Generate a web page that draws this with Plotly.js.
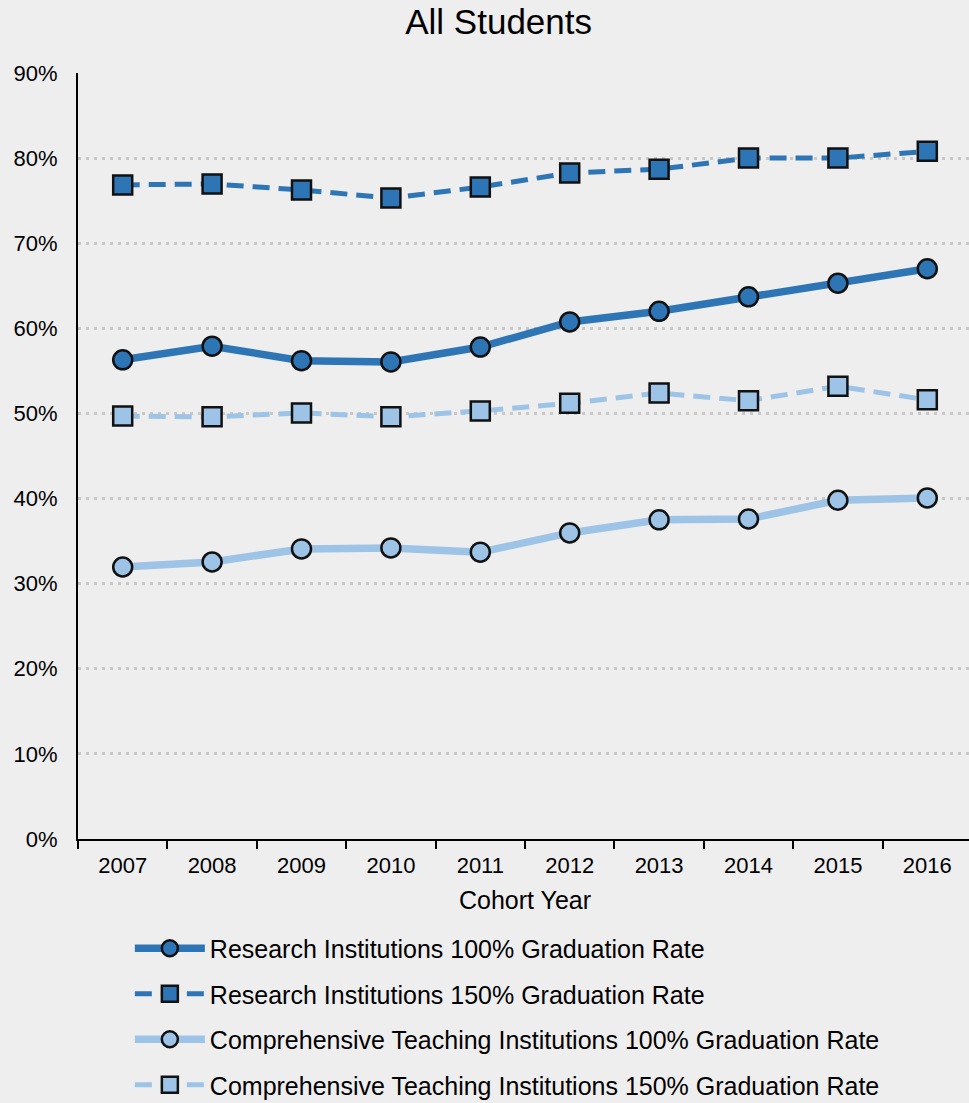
<!DOCTYPE html>
<html>
<head>
<meta charset="utf-8">
<script src="https://cdn.plot.ly/plotly-3.0.1.min.js"></script>
<style>html,body{margin:0;padding:0;background:#eeeeee;overflow:hidden;}#chart{width:972px;height:1103px;}</style>
</head>
<body>
<div id="chart"></div>
<script>
const years = ['2007','2008','2009','2010','2011','2012','2013','2014','2015','2016'];
const research100 = [56.3, 57.9, 56.2, 56.05, 57.8, 60.75, 62.0, 63.7, 65.3, 67.0];
const research150 = [76.85, 76.97, 76.26, 75.3, 76.6, 78.26, 78.7, 80.0, 80.0, 80.8];
const comp100 = [31.96, 32.55, 34.08, 34.2, 33.7, 35.96, 37.5, 37.6, 39.8, 40.07];
const comp150 = [49.7, 49.6, 50.06, 49.6, 50.3, 51.2, 52.4, 51.5, 53.2, 51.6];
const seriesNames = [
  'Research Institutions 100% Graduation Rate',
  'Research Institutions 150% Graduation Rate',
  'Comprehensive Teaching Institutions 100% Graduation Rate',
  'Comprehensive Teaching Institutions 150% Graduation Rate'
];
const dark = '#2E75B6', light = '#9DC3E6';

function tr(y, name, color, dashed, symbol, group) {
  return {
    x: years, y: y, name: name, type: 'scatter', mode: 'lines+markers',
    legendgroup: group,
    line: {color: color, width: dashed ? 5 : 7.5, dash: dashed ? '17px,9px' : 'solid'},
    marker: {symbol: symbol, size: 19, color: color, line: {color: '#111', width: 2.5}},
    hoverinfo: 'x+y'
  };
}
const data = [
  tr(research100, seriesNames[0], dark, false, 'circle', 'g1'),
  tr(research150, seriesNames[1], dark, true, 'square', 'g2'),
  tr(comp100, seriesNames[2], light, false, 'circle', 'g3'),
  tr(comp150, seriesNames[3], light, true, 'square', 'g4')
];
const layout = {
  width: 972, height: 1103,
  paper_bgcolor: '#eeeeee', plot_bgcolor: '#eeeeee',
  font: {family: 'Liberation Sans, Arial, sans-serif', color: '#000', size: 22},
  margin: {l: 78, r: 0, t: 73, b: 264, autoexpand: false},
  title: {text: 'All Students', x: 0.513, xanchor: 'center', y: 0.980, yanchor: 'middle', font: {size: 35}},
  xaxis: {
    type: 'category', range: [-0.5, 9.5], tickson: 'boundaries',
    ticks: 'outside', ticklen: 8, tickwidth: 2, tickcolor: '#000',
    showline: true, linecolor: '#000', linewidth: 2, showgrid: false,
    tickfont: {size: 22}, ticklabelstandoff: 6,
    title: {text: 'Cohort Year', font: {size: 25}, standoff: 14}
  },
  yaxis: {
    range: [0, 90], dtick: 10, ticksuffix: '%',
    showline: true, linecolor: '#000', linewidth: 2,
    showgrid: true, gridcolor: '#c8c8c8', gridwidth: 3, griddash: '3px,5px',
    zeroline: false, ticks: '', tickfont: {size: 22}, ticklabelstandoff: 14
  },
  showlegend: true,
  legend: {
    orientation: 'v', x: 0.058, xanchor: 'left', y: -0.113, yanchor: 'top',
    font: {size: 25}, itemwidth: 70, tracegroupgap: 10, bgcolor: 'rgba(0,0,0,0)'
  }
};
Plotly.newPlot('chart', data, layout, {displayModeBar: false});
</script>
</body>
</html>
